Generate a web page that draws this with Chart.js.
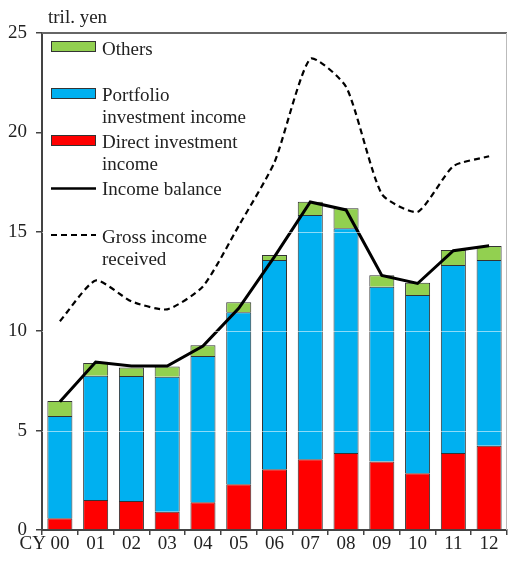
<!DOCTYPE html>
<html>
<head>
<meta charset="utf-8">
<script src="https://cdn.jsdelivr.net/npm/chart.js@4.4.1/dist/chart.umd.min.js"></script>
<style>
  html, body { margin: 0; padding: 0; background: #fff; }
  #wrap { width: 508px; height: 570px; }
</style>
</head>
<body>
<div id="wrap"><canvas id="incomeChart" width="508" height="570"></canvas></div>
<script>
const years = ['00', '01', '02', '03', '04', '05', '06', '07', '08', '09', '10', '11', '12'];
const directInc = [0.59, 1.51, 1.46, 0.92, 1.39, 2.30, 3.05, 3.56, 3.87, 3.44, 2.85, 3.87, 4.24];
const portfolioInc = [5.14, 6.25, 6.29, 6.79, 7.36, 8.65, 10.53, 12.29, 11.31, 8.80, 8.97, 9.46, 9.34];
const othersInc = [0.76, 0.64, 0.43, 0.52, 0.54, 0.50, 0.25, 0.66, 1.00, 0.57, 0.62, 0.75, 0.71];
const incomeBalance = [6.45, 8.45, 8.25, 8.25, 9.25, 11.15, 13.75, 16.5, 16.1, 12.8, 12.4, 14.05, 14.3];
const grossReceived = [10.5, 12.55, 11.5, 11.1, 12.25, 15.3, 18.5, 23.7, 22.3, 16.9, 16.0, 18.3, 18.8];
const yTicks = [0, 5, 10, 15, 20, 25];

const serif = "'Liberation Serif', 'DejaVu Serif', serif";
const txtColor = '#222';

// frame, unit label, "CY", faint grid over bars and the legend
const decor = {
    id: 'decor',
    afterDatasetsDraw(chart) {
        const ctx = chart.ctx;
        const a = chart.chartArea;
        const y = chart.scales.y;
        const x = chart.scales.x;
        ctx.save();
        // faint white grid lines over the bars
        ctx.strokeStyle = 'rgba(255,255,255,0.55)';
        ctx.lineWidth = 1;
        [5, 10, 15].forEach(v => {
            const py = Math.round(y.getPixelForValue(v)) + 0.5;
            ctx.beginPath();
            ctx.moveTo(a.left, py);
            ctx.lineTo(a.right, py);
            ctx.stroke();
        });
        // top and right border
        ctx.strokeStyle = '#666';
        ctx.lineWidth = 2;
        ctx.beginPath();
        ctx.moveTo(a.left, a.top);
        ctx.lineTo(a.right, a.top);
        ctx.stroke();
        ctx.strokeStyle = '#bbb';
        ctx.lineWidth = 1;
        ctx.beginPath();
        ctx.moveTo(a.right - 0.5, a.top);
        ctx.lineTo(a.right - 0.5, a.bottom);
        ctx.stroke();

        ctx.fillStyle = txtColor;
        ctx.font = '19px ' + serif;
        ctx.textBaseline = 'alphabetic';
        ctx.textAlign = 'left';
        ctx.fillText('tril. yen', 48, 23);
        ctx.textAlign = 'right';
        ctx.fillText('CY', x.getPixelForValue(0) - 14, 549);

        // legend
        const bx = 51, bw = 45, tx = 102;
        const boxes = [
            { c: '#92D050', y: 41, lines: ['Others'], ty: 55 },
            { c: '#00B0F0', y: 88, lines: ['Portfolio', 'investment income'], ty: 101 },
            { c: '#FF0000', y: 135, lines: ['Direct investment', 'income'], ty: 148 }
        ];
        ctx.textAlign = 'left';
        boxes.forEach(b => {
            ctx.fillStyle = b.c;
            ctx.fillRect(bx, b.y, bw, 11);
            ctx.strokeStyle = '#333';
            ctx.lineWidth = 1;
            ctx.strokeRect(bx + 0.5, b.y + 0.5, bw - 1, 10);
            ctx.fillStyle = txtColor;
            b.lines.forEach((t, i) => ctx.fillText(t, tx, b.ty + i * 22));
        });
        ctx.strokeStyle = '#000';
        ctx.lineWidth = 2.5;
        ctx.beginPath();
        ctx.moveTo(bx, 188.5);
        ctx.lineTo(bx + bw, 188.5);
        ctx.stroke();
        ctx.fillText('Income balance', tx, 195);
        ctx.lineWidth = 2;
        ctx.setLineDash([6, 4]);
        ctx.beginPath();
        ctx.moveTo(bx, 235);
        ctx.lineTo(bx + bw, 235);
        ctx.stroke();
        ctx.setLineDash([]);
        ctx.fillText('Gross income', tx, 243);
        ctx.fillText('received', tx, 265);
        ctx.restore();
    }
};

const barStyle = { stack: 'bars', borderColor: '#333', borderWidth: 1, order: 2, barPercentage: 0.7, categoryPercentage: 1 };

new Chart(document.getElementById('incomeChart'), {
    data: {
        labels: years,
        datasets: [
            Object.assign({ type: 'bar', label: 'Direct investment income', data: directInc, backgroundColor: '#FF0000' }, barStyle),
            Object.assign({ type: 'bar', label: 'Portfolio investment income', data: portfolioInc, backgroundColor: '#00B0F0' }, barStyle),
            Object.assign({ type: 'bar', label: 'Others', data: othersInc, backgroundColor: '#92D050' }, barStyle),
            {
                type: 'line', label: 'Income balance', data: incomeBalance, stack: 'bal', order: 1,
                borderColor: '#000', borderWidth: 3, pointRadius: 0, tension: 0, fill: false
            },
            {
                type: 'line', label: 'Gross income received', data: grossReceived, stack: 'gross', order: 0,
                borderColor: '#000', borderWidth: 2.2, borderDash: [6, 4], pointRadius: 0, tension: 0.2, fill: false
            }
        ]
    },
    options: {
        responsive: false,
        animation: false,
        layout: { padding: { top: 33, right: 1, left: 0, bottom: 0 } },
        scales: {
            x: {
                offset: true,
                grid: { offset: true, drawOnChartArea: false, tickLength: 5, color: '#444', lineWidth: 1.5 },
                border: { color: '#444', width: 2 },
                ticks: { color: txtColor, font: { family: serif, size: 19 }, padding: -2, maxRotation: 0, autoSkip: false },
                afterFit: s => { s.height = 40; }
            },
            y: {
                stacked: true,
                min: 0,
                max: 25,
                afterBuildTicks: s => { s.ticks = yTicks.map(v => ({ value: v })); },
                grid: { drawOnChartArea: false, tickLength: 6, color: '#444', lineWidth: 1.5 },
                border: { color: '#444', width: 2 },
                ticks: { color: txtColor, font: { family: serif, size: 19 }, padding: 9 },
                afterFit: s => { s.width = 42; }
            }
        },
        plugins: {
            legend: { display: false },
            tooltip: { enabled: false }
        }
    },
    plugins: [decor]
});
</script>
</body>
</html>
